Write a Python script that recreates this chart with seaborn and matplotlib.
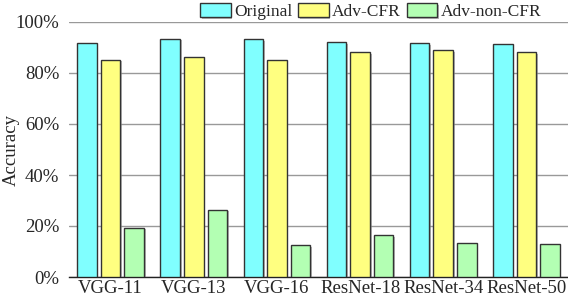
import numpy as np
import matplotlib
matplotlib.use("Agg")
import matplotlib.pyplot as plt
import matplotlib.patheffects as pe
import seaborn as sns
import pandas as pd

models = ["VGG-11", "VGG-13", "VGG-16", "ResNet-18", "ResNet-34", "ResNet-50"]
original = [91.7, 93.4, 93.2, 92.1, 91.6, 91.3]
adv_cfr = [85.2, 86.1, 85.2, 88.3, 89.0, 88.2]
adv_non_cfr = [19.3, 26.4, 12.4, 16.4, 13.2, 13.1]
series = ["Original", "Adv-CFR", "Adv-non-CFR"]
colors = ["#80ffff", "#ffff80", "#b3ffb3"]

df = pd.DataFrame({
    "model": models * 3,
    "acc": original + adv_cfr + adv_non_cfr,
    "kind": [s for s in series for _ in models],
})

sns.set_style("white")
plt.rcParams["font.family"] = ["Liberation Serif", "DejaVu Serif"]

fig = plt.figure(figsize=(5.68, 2.99), dpi=100)
ax = fig.add_axes([69 / 568, 22 / 299, 1 - 69 / 568, 255 / 299])

sns.barplot(data=df, x="model", y="acc", hue="kind", palette=colors,
            saturation=1, width=0.85, gap=0.17, edgecolor="#333333",
            linewidth=1.0, ax=ax, zorder=3)
shadow = [pe.SimplePatchShadow(offset=(1.2, -1.2), shadow_rgbFace="#888888", alpha=0.6),
          pe.Normal()]
for p in ax.patches:
    p.set_path_effects(shadow)

ax.set_xlim(-0.5, 5.5)
ax.set_ylim(0, 100)
ax.set_yticks([0, 20, 40, 60, 80, 100])
ax.set_yticklabels(["0%", "20%", "40%", "60%", "80%", "100%"], fontsize=13.5)
ax.tick_params(axis="x", labelsize=13.5, length=0, pad=2)
ax.tick_params(axis="y", length=3, width=0.8, color="#888888", pad=4)
ax.yaxis.grid(True, color="#999999", linewidth=1.0, zorder=0)
ax.set_axisbelow(True)
ax.set_xlabel("")
ax.set_ylabel("Accuracy", fontsize=13.5)
ax.yaxis.set_label_coords(-0.098, 0.5)
for s in ["left", "right", "top"]:
    ax.spines[s].set_visible(False)
ax.spines["bottom"].set_color("#222222")
ax.spines["bottom"].set_linewidth(1.0)

handles, labels = ax.get_legend_handles_labels()
for h in handles:
    h.set_path_effects(shadow)
ax.legend(handles, labels, loc="center", bbox_to_anchor=(0.605, 1.04),
          ncol=3, frameon=False, fontsize=12.5, handlelength=1.75,
          handleheight=0.85, handletextpad=0.2, columnspacing=0.35,
          borderaxespad=0)

fig.savefig("out.png", dpi=100)
